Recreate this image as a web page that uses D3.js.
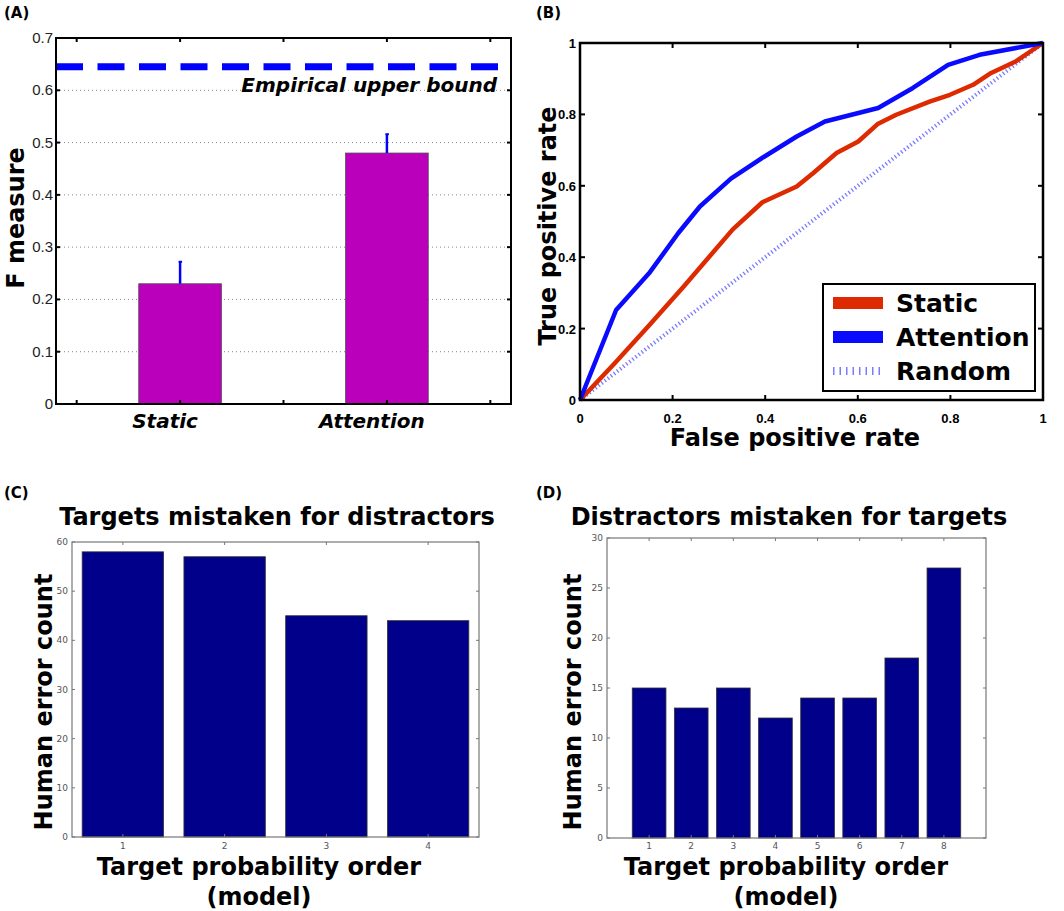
<!DOCTYPE html>
<html lang="en">
<head>
<meta charset="UTF-8"/>
<title>Target detection figure</title>
<script src="https://d3js.org/d3.v7.min.js"></script>
<style>
  body { margin: 0; background: #fff; }
  text { font-family: "DejaVu Sans", sans-serif; }
</style>
</head>
<body>
<div id="chart"></div>
<script>
// ---- data ----
var fCategories = ["Static", "Attention"];
var fValues = [0.23, 0.48];
var fErrors = [0.042, 0.036];
var upperBound = 0.645;
var fTicks = [0, 0.1, 0.2, 0.3, 0.4, 0.5, 0.6, 0.7];

var staticFpr = [0, 0.075, 0.15, 0.224, 0.33, 0.394, 0.468, 0.504, 0.554, 0.601, 0.644, 0.683, 0.755, 0.799, 0.849, 0.888, 0.942, 1];
var staticTpr = [0, 0.103, 0.21, 0.318, 0.478, 0.554, 0.598, 0.636, 0.692, 0.724, 0.774, 0.799, 0.836, 0.855, 0.883, 0.916, 0.949, 1];
var attnFpr = [0, 0.078, 0.151, 0.212, 0.259, 0.326, 0.396, 0.468, 0.529, 0.644, 0.719, 0.795, 0.863, 1];
var attnTpr = [0, 0.252, 0.358, 0.467, 0.542, 0.62, 0.68, 0.738, 0.78, 0.818, 0.874, 0.939, 0.967, 1];
var randomFpr = [0, 1];
var randomTpr = [0, 1];
var rocTicks = [0, 0.2, 0.4, 0.6, 0.8, 1];

var orderC = [1, 2, 3, 4];
var countsC = [58, 57, 45, 44];
var ticksC = [0, 10, 20, 30, 40, 50, 60];

var orderD = [1, 2, 3, 4, 5, 6, 7, 8];
var countsD = [15, 13, 15, 12, 14, 14, 18, 27];
var ticksD = [0, 5, 10, 15, 20, 25, 30];

var svg = d3.select("#chart").append("svg")
  .attr("width", 1064).attr("height", 911);

function panelLabel(x, y, s) {
  svg.append("text").attr("x", x).attr("y", y)
    .attr("font-size", 15).attr("font-weight", "bold").text(s);
}

// ================= (A) =================
panelLabel(4, 18, "(A)");
var ax = d3.scaleLinear().domain([0.4, 2.6]).range([56, 511]);
var ay = d3.scaleLinear().domain([0, 0.7]).range([404, 38]);
var gA = svg.append("g");

// dotted grid
gA.selectAll(".grid").data(fTicks.slice(1, -1)).enter().append("line")
  .attr("x1", ax(0.4)).attr("x2", ax(2.6))
  .attr("y1", d => ay(d)).attr("y2", d => ay(d))
  .attr("stroke", "#888").attr("stroke-width", 1).attr("stroke-dasharray", "1,3");

// bars
gA.selectAll(".bar").data(fValues).enter().append("rect")
  .attr("x", (d, i) => ax(i + 1 - 0.2)).attr("width", ax(1.4) - ax(1))
  .attr("y", d => ay(d)).attr("height", d => ay(0) - ay(d))
  .attr("fill", "#bb00bb").attr("stroke", "#555").attr("stroke-width", 0.8);

// error bars (upper only)
gA.selectAll(".err").data(fValues).enter().append("line")
  .attr("x1", (d, i) => ax(i + 1)).attr("x2", (d, i) => ax(i + 1))
  .attr("y1", d => ay(d)).attr("y2", (d, i) => ay(d + fErrors[i]))
  .attr("stroke", "#0000ff").attr("stroke-width", 2.5);
gA.selectAll(".cap").data(fValues).enter().append("line")
  .attr("x1", (d, i) => ax(i + 1) - 1.5).attr("x2", (d, i) => ax(i + 1) + 2)
  .attr("y1", (d, i) => ay(d + fErrors[i])).attr("y2", (d, i) => ay(d + fErrors[i]))
  .attr("stroke", "#0000ff").attr("stroke-width", 2);

// upper bound dashed line
gA.append("line")
  .attr("x1", ax(0.4)).attr("x2", ax(2.55))
  .attr("y1", ay(upperBound)).attr("y2", ay(upperBound))
  .attr("stroke", "#0000ff").attr("stroke-width", 7).attr("stroke-dasharray", "27,14.5");
gA.append("text").attr("x", 497).attr("y", 92).attr("text-anchor", "end")
  .attr("font-size", 20).attr("font-weight", "bold").attr("font-style", "italic")
  .text("Empirical upper bound");

// frame + ticks
gA.append("rect").attr("x", ax(0.4)).attr("y", ay(0.7))
  .attr("width", ax(2.6) - ax(0.4)).attr("height", ay(0) - ay(0.7))
  .attr("fill", "none").attr("stroke", "#000").attr("stroke-width", 2);
[0.5, 1, 1.5, 2, 2.5].forEach(function (t) {
  gA.append("line").attr("x1", ax(t)).attr("x2", ax(t)).attr("y1", ay(0)).attr("y2", ay(0) - 4)
    .attr("stroke", "#000").attr("stroke-width", 2);
  gA.append("line").attr("x1", ax(t)).attr("x2", ax(t)).attr("y1", ay(0.7)).attr("y2", ay(0.7) + 4)
    .attr("stroke", "#000").attr("stroke-width", 2);
});
fTicks.forEach(function (t) {
  gA.append("line").attr("x1", ax(0.4)).attr("x2", ax(0.4) + 4).attr("y1", ay(t)).attr("y2", ay(t))
    .attr("stroke", "#000").attr("stroke-width", 2);
  gA.append("line").attr("x1", ax(2.6)).attr("x2", ax(2.6) - 4).attr("y1", ay(t)).attr("y2", ay(t))
    .attr("stroke", "#000").attr("stroke-width", 2);
  gA.append("text").attr("x", 53).attr("y", ay(t) + 5).attr("text-anchor", "end")
    .attr("font-size", 15).attr("fill", "#222").style("font-family", "Liberation Sans, sans-serif")
    .text(t === 0 ? "0" : d3.format(".1f")(t));
});
fCategories.forEach(function (c, i) {
  gA.append("text").attr("x", ax(i + 1) - 15).attr("y", 428).attr("text-anchor", "middle")
    .attr("font-size", 20).attr("font-weight", "bold").attr("font-style", "italic").text(c);
});
gA.append("text").attr("transform", "translate(24,218) rotate(-90)")
  .attr("text-anchor", "middle").attr("font-size", 24).attr("font-weight", "bold").text("F measure");

// ================= (B) =================
panelLabel(536, 18, "(B)");
var bx = d3.scaleLinear().domain([0, 1]).range([580, 1043]);
var by = d3.scaleLinear().domain([0, 1]).range([400, 43]);
var gB = svg.append("g");
var rocLine = d3.line().x(d => bx(d[0])).y(d => by(d[1]));

gB.append("path").datum(d3.zip(randomFpr, randomTpr)).attr("d", rocLine)
  .attr("fill", "none").attr("stroke", "#7b7bff").attr("stroke-width", 4).attr("stroke-dasharray", "1.3,2.6");
gB.append("path").datum(d3.zip(staticFpr, staticTpr)).attr("d", rocLine)
  .attr("fill", "none").attr("stroke", "#dd2a00").attr("stroke-width", 4.5).attr("stroke-linejoin", "round");
gB.append("path").datum(d3.zip(attnFpr, attnTpr)).attr("d", rocLine)
  .attr("fill", "none").attr("stroke", "#0a0aff").attr("stroke-width", 4.5).attr("stroke-linejoin", "round");

gB.append("rect").attr("x", bx(0)).attr("y", by(1))
  .attr("width", bx(1) - bx(0)).attr("height", by(0) - by(1))
  .attr("fill", "none").attr("stroke", "#000").attr("stroke-width", 2.5);
rocTicks.forEach(function (t) {
  gB.append("line").attr("x1", bx(t)).attr("x2", bx(t)).attr("y1", by(0)).attr("y2", by(0) - 5).attr("stroke", "#000").attr("stroke-width", 2);
  gB.append("line").attr("x1", bx(t)).attr("x2", bx(t)).attr("y1", by(1)).attr("y2", by(1) + 5).attr("stroke", "#000").attr("stroke-width", 2);
  gB.append("line").attr("x1", bx(0)).attr("x2", bx(0) + 5).attr("y1", by(t)).attr("y2", by(t)).attr("stroke", "#000").attr("stroke-width", 2);
  gB.append("line").attr("x1", bx(1)).attr("x2", bx(1) - 5).attr("y1", by(t)).attr("y2", by(t)).attr("stroke", "#000").attr("stroke-width", 2);
  var lab = (t === 0 || t === 1) ? String(t) : d3.format(".1f")(t);
  gB.append("text").attr("x", bx(t)).attr("y", 423).attr("text-anchor", "middle")
    .attr("font-size", 13).attr("font-weight", "bold").style("font-family", "Liberation Sans, sans-serif").text(lab);
  gB.append("text").attr("x", 576).attr("y", by(t) + 5).attr("text-anchor", "end")
    .attr("font-size", 13).attr("font-weight", "bold").style("font-family", "Liberation Sans, sans-serif").text(lab);
});
gB.append("text").attr("x", 795).attr("y", 446).attr("text-anchor", "middle")
  .attr("font-size", 24).attr("font-weight", "bold").text("False positive rate");
gB.append("text").attr("transform", "translate(556,226) rotate(-90)")
  .attr("text-anchor", "middle").attr("font-size", 24).attr("font-weight", "bold").text("True positive rate");

// legend
var legendItems = [
  { name: "Static", color: "#dd2a00", w: 12, dash: null },
  { name: "Attention", color: "#0a0aff", w: 12, dash: null },
  { name: "Random", color: "#7b7bff", w: 8, dash: "1.5,5" }
];
gB.append("rect").attr("x", 823).attr("y", 284).attr("width", 212).attr("height", 107)
  .attr("fill", "#fff").attr("stroke", "#000").attr("stroke-width", 2);
legendItems.forEach(function (d, i) {
  var ly = 303 + i * 34;
  gB.append("line").attr("x1", 833).attr("x2", 883).attr("y1", ly).attr("y2", ly)
    .attr("stroke", d.color).attr("stroke-width", d.w).attr("stroke-dasharray", d.dash);
  gB.append("text").attr("x", 896).attr("y", ly + 9).attr("font-size", 25).attr("font-weight", "bold").text(d.name);
});

// ================= (C) & (D) =================
function countPanel(opts) {
  var g = svg.append("g");
  var x = d3.scaleLinear().domain(opts.xDomain).range([opts.left, opts.right]);
  var y = d3.scaleLinear().domain([0, opts.yMax]).range([opts.bottom, opts.top]);
  g.selectAll("rect.bar").data(opts.values).enter().append("rect")
    .attr("x", (d, i) => x(opts.order[i] - 0.4)).attr("width", x(1.4) - x(0.6))
    .attr("y", d => y(d)).attr("height", d => y(0) - y(d))
    .attr("fill", "#00008b").attr("stroke", "#333").attr("stroke-width", 0.8);
  g.append("rect").attr("x", opts.left).attr("y", opts.top)
    .attr("width", opts.right - opts.left).attr("height", opts.bottom - opts.top)
    .attr("fill", "none").attr("stroke", "#777").attr("stroke-width", 1.2);
  opts.order.forEach(function (t) {
    g.append("line").attr("x1", x(t)).attr("x2", x(t)).attr("y1", opts.bottom).attr("y2", opts.bottom - 3).attr("stroke", "#777");
    g.append("line").attr("x1", x(t)).attr("x2", x(t)).attr("y1", opts.top).attr("y2", opts.top + 3).attr("stroke", "#777");
    g.append("text").attr("x", x(t)).attr("y", 849).attr("text-anchor", "middle")
      .attr("font-size", 9).attr("fill", "#555").text(t);
  });
  opts.yTicks.forEach(function (t) {
    g.append("line").attr("x1", opts.left).attr("x2", opts.left + 3).attr("y1", y(t)).attr("y2", y(t)).attr("stroke", "#777");
    g.append("line").attr("x1", opts.right).attr("x2", opts.right - 3).attr("y1", y(t)).attr("y2", y(t)).attr("stroke", "#777");
    g.append("text").attr("x", opts.left - 4).attr("y", y(t) + 3).attr("text-anchor", "end")
      .attr("font-size", 9).attr("fill", "#555").text(t);
  });
  g.append("text").attr("x", opts.titleX).attr("y", 525).attr("text-anchor", "middle")
    .attr("font-size", 24).attr("font-weight", "bold").text(opts.title);
  g.append("text").attr("transform", "translate(" + opts.ylabX + ",702) rotate(-90)")
    .attr("text-anchor", "middle").attr("font-size", 24).attr("font-weight", "bold").text("Human error count");
  g.append("text").attr("x", opts.xlabX).attr("y", 875).attr("text-anchor", "middle")
    .attr("font-size", 24).attr("font-weight", "bold").text("Target probability order");
  g.append("text").attr("x", opts.xlabX).attr("y", 905).attr("text-anchor", "middle")
    .attr("font-size", 24).attr("font-weight", "bold").text("(model)");
}

panelLabel(4, 498, "(C)");
countPanel({ order: orderC, values: countsC, yTicks: ticksC, yMax: 60, xDomain: [0.5, 4.5],
  left: 72, right: 479, top: 542, bottom: 837, title: "Targets mistaken for distractors",
  titleX: 277, ylabX: 52, xlabX: 259 });

panelLabel(536, 498, "(D)");
countPanel({ order: orderD, values: countsD, yTicks: ticksD, yMax: 30, xDomain: [0, 9],
  left: 607, right: 986, top: 538, bottom: 838, title: "Distractors mistaken for targets",
  titleX: 789, ylabX: 581, xlabX: 786 });
</script>
</body>
</html>
